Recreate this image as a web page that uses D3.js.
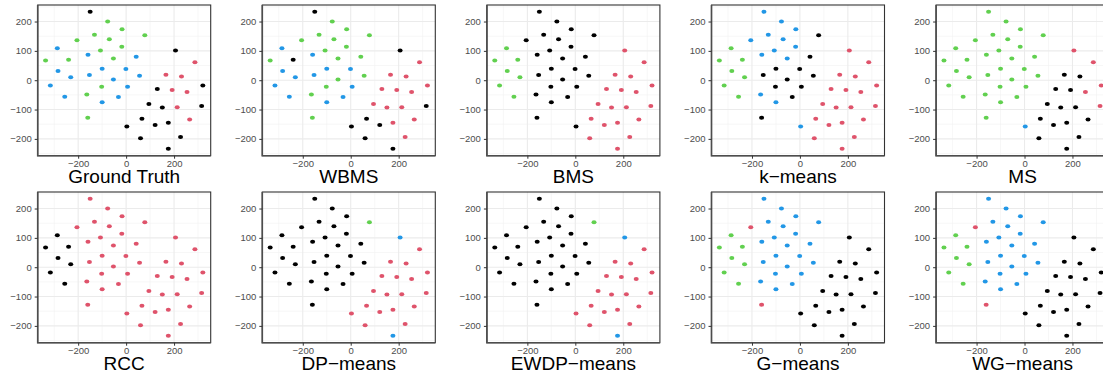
<!DOCTYPE html>
<html>
<head>
<meta charset="utf-8">
<script src="https://cdn.jsdelivr.net/npm/d3@7"></script>
<style>
  html, body { margin: 0; padding: 0; background: #ffffff; }
  svg { display: block; }
</style>
</head>
<body>
<svg id="chart" width="1103" height="372"></svg>
<script>
// ---- data ----
const xs = [-150, -77, -17, -132, 78, -205, -70, -287, -107, -18,
            206, -159, 42, -336, -240, -53, 287, -100, -1, -284,
            -153, 56, 166, 231, -231, -53, -316, -102, 6, 320,
            130, 192, 254, -164, -256, -32, -100, 95, 151, 213,
            315, -160, 66, 265, 3, 121, 176, 60, 227, 176];
const ys = [233, 200, 174, 155, 153, 136, 140, 109, 101, 114,
            101, 87, 80, 67, 70, 74, 61, 39, 38, 31,
            18, 15, 19, 13, 10, 2, -18, -22, -22, -18,
            -30, -33, -40, -49, -56, -57, -75, -81, -93, -92,
            -88, -128, -131, -134, -158, -153, -145, -198, -194, -234];

const methods = ["Ground Truth", "WBMS", "BMS", "k\u2212means", "MS",
                 "RCC", "DP\u2212means", "EWDP\u2212means", "G\u2212means", "WG\u2212means"];

// cluster labels per method (K=black, R=red, G=green, B=blue)
const labGT    = "KGGGGGGBGGKBBGGGRBBBBBRRBBBGBKKRRGBBBKKRKGKRKKKKKK";
const labWBMS  = "KGGGGGGBGGKBGGKGRBBBBGRRBGBGBRRRRGBBBRRRKGKRKKRKRK";
const labBMS   = "KKKKKKKGKKRKKGGKRKKGKKRRGKGKKRRRRKGKKRRRRKRRKRRRRR";
const labKM    = "BBBBKBBGBBRBKGGBRKKGKKRRGKGKKRRRRBGKBRRRRKRRBRRRRR";
const labMS    = "GGGGGGGGGGRGGGGGRGGGGGKKGGGGGRKKRGGGGKKKRGKKBKKKKK";
const labRCC   = "RRRRRRRKRRRRRKKRRRRKRRRRKRKRRRRRRRKRRRRRRRRRRRRRRR";
const labDP    = "KKKKGKKKKKBKKKKKRKKKKKRRKKKKKRRRRKKKKRRRRKRRRRRRRB";
const labEWDP  = "KKKKGKKKKKBKKKKKRKKKKKRRKKKKKRRRRKKKKRRRRKRRRRRRRB";
const labGM    = "BBBBBRBGBBKBBGGBKBBGBBKKGBGBBKKKKBGBBKKKKRKKKKKKKK";
const labWGM   = "BBBBBRBGBBKBBGGBKBBGBBKKGBGBBKKKKBGBBKKKKRKKKKKKKK";
const allLabels = [labGT, labWBMS, labBMS, labKM, labMS, labRCC, labDP, labEWDP, labGM, labWGM];

const xMajor = [-200, 0, 200];
const xMinor = [-300, -100, 100, 300];
const yMajor = [-200, -100, 0, 100, 200];
const yMinor = [-250, -150, -50, 50, 150, 250];

// ---- style ----
const palette = { K: "#000000", R: "#DF536B", G: "#61D04F", B: "#2297E6" };
const boxW = 173, boxH = 150.7;
const left0 = 37.7, colStep = 224.6;
const rowTops = [5, 192];

const svg = d3.select("#chart");

function expand(ext) {
  const p = (ext[1] - ext[0]) * 0.05;
  return [ext[0] - p, ext[1] + p];
}
const x = d3.scaleLinear().domain(expand(d3.extent(xs))).range([0, boxW]);
const y = d3.scaleLinear().domain(expand(d3.extent(ys))).range([boxH, 0]);

const fmt = v => (v < 0 ? "\u2212" + Math.abs(v) : String(v));
const idx = d3.range(xs.length);

methods.forEach((name, m) => {
  const col = m % 5, row = Math.floor(m / 5);
  const g = svg.append("g")
    .attr("transform", `translate(${left0 + col * colStep},${rowTops[row]})`);

  g.append("rect").attr("width", boxW).attr("height", boxH).attr("fill", "#fff");

  g.selectAll(".xmin").data(xMinor).join("line")
    .attr("x1", d => x(d)).attr("x2", d => x(d)).attr("y1", 0).attr("y2", boxH)
    .attr("stroke", "#F2F2F2").attr("stroke-width", 0.6);
  g.selectAll(".ymin").data(yMinor).join("line")
    .attr("y1", d => y(d)).attr("y2", d => y(d)).attr("x1", 0).attr("x2", boxW)
    .attr("stroke", "#F2F2F2").attr("stroke-width", 0.6);
  g.selectAll(".xmaj").data(xMajor).join("line")
    .attr("x1", d => x(d)).attr("x2", d => x(d)).attr("y1", 0).attr("y2", boxH)
    .attr("stroke", "#EBEBEB").attr("stroke-width", 1.1);
  g.selectAll(".ymaj").data(yMajor).join("line")
    .attr("y1", d => y(d)).attr("y2", d => y(d)).attr("x1", 0).attr("x2", boxW)
    .attr("stroke", "#EBEBEB").attr("stroke-width", 1.1);

  const labs = allLabels[m];
  g.selectAll("ellipse").data(idx).join("ellipse")
    .attr("cx", i => x(xs[i])).attr("cy", i => y(ys[i]))
    .attr("rx", 2.5).attr("ry", 2.0)
    .attr("fill", i => palette[labs[i]]);

  g.append("rect").attr("width", boxW).attr("height", boxH)
    .attr("fill", "none").attr("stroke", "#333333").attr("stroke-width", 1.1);
  g.append("path").attr("d", `M0,0V${boxH}H${boxW}`)
    .attr("fill", "none").attr("stroke", "#4d4d4d").attr("stroke-width", 1.6);

  const xa = g.append("g").attr("transform", `translate(0,${boxH})`)
    .call(d3.axisBottom(x).tickValues(xMajor).tickFormat(fmt).tickSize(3).tickPadding(2));
  const ya = g.append("g")
    .call(d3.axisLeft(y).tickValues(yMajor).tickFormat(fmt).tickSize(3).tickPadding(3));
  [xa, ya].forEach(a => {
    a.select(".domain").remove();
    a.selectAll(".tick line").attr("stroke", "#333333").attr("stroke-width", 1);
    a.selectAll(".tick text")
      .attr("fill", "#4D4D4D")
      .style("font-family", "'Liberation Sans', Arial, sans-serif")
      .style("font-size", "9.5px");
  });

  g.append("text")
    .attr("x", boxW / 2).attr("y", boxH + 27)
    .attr("text-anchor", "middle")
    .style("font-family", "'Liberation Sans', Arial, sans-serif")
    .style("font-size", "19px")
    .attr("fill", "#000")
    .text(name);
});
</script>
</body>
</html>
